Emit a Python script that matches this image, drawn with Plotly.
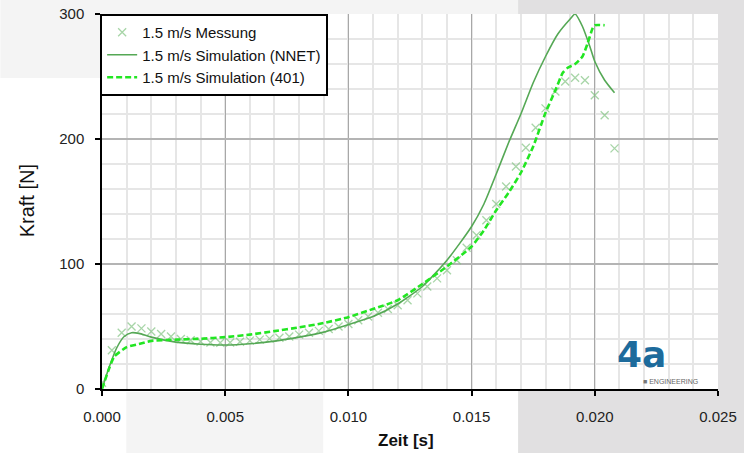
import plotly.graph_objects as go

# ---------------- data ----------------
t_meas = [0.0000, 0.0004, 0.0008, 0.0012, 0.0016, 0.0020, 0.0024, 0.0028, 0.0032, 0.0036,
          0.0040, 0.0044, 0.0048, 0.0052, 0.0056, 0.0060, 0.0064, 0.0068, 0.0072, 0.0076,
          0.0080, 0.0084, 0.0088, 0.0092, 0.0096, 0.0100, 0.0104, 0.0108, 0.0112, 0.0116,
          0.0120, 0.0124, 0.0128, 0.0132, 0.0136, 0.0140, 0.0144, 0.0148, 0.0152, 0.0156,
          0.0160, 0.0164, 0.0168, 0.0172, 0.0176, 0.0180, 0.0184, 0.0188, 0.0192, 0.0196,
          0.0200, 0.0204, 0.0208]
f_meas = [5, 31, 45, 50, 48.5, 46, 44, 42, 40, 39,
          38, 37.2, 37, 37.2, 37.8, 38.7, 39.5, 40.3, 41, 42,
          43.5, 45, 46.5, 48, 50, 52, 55, 58, 61, 64,
          67, 71, 76.5, 82, 88.5, 95, 103, 113, 123, 135,
          148, 162, 178, 193, 209, 224.5, 238, 246, 249, 247,
          235, 219, 192.5]

t_nnet = [0.0, 0.0003, 0.0006, 0.0009, 0.0012, 0.0015, 0.002, 0.003, 0.004, 0.005,
          0.006, 0.007, 0.008, 0.009, 0.010, 0.011, 0.012, 0.013, 0.014, 0.015,
          0.0155, 0.016, 0.0165, 0.017, 0.0175, 0.018, 0.0185, 0.019, 0.0192, 0.0195,
          0.0198, 0.020, 0.0204, 0.0208]
f_nnet = [0, 18, 33, 42, 45, 44.5, 41.5, 37.5, 35.8, 35.2,
          36.2, 38.3, 41.5, 45.5, 51.5, 58, 68, 82, 103, 130,
          148, 172, 197, 220, 245, 266, 284, 296, 300, 290,
          274, 262, 247, 237]

t_401 = [0.0, 0.0003, 0.0005, 0.001, 0.0015, 0.002, 0.003, 0.004, 0.005, 0.006,
         0.007, 0.008, 0.009, 0.010, 0.011, 0.012, 0.013, 0.014, 0.015, 0.0155,
         0.016, 0.0165, 0.017, 0.0175, 0.018, 0.0184, 0.0187, 0.0189, 0.0192, 0.0195,
         0.0197, 0.0199, 0.0200, 0.0204]
f_401 = [0, 17, 26, 33.5, 36, 38.5, 39.5, 40.2, 41.5, 43.5,
         46.3, 49.3, 52.8, 57.5, 64, 71, 84, 98, 114, 127,
         143, 157, 173, 194, 221, 239, 253, 257, 260, 266,
         276, 288, 291, 291]

names = ["1.5 m/s Messung", "1.5 m/s Simulation (NNET)", "1.5 m/s Simulation (401)"]
x_ticks = [0.000, 0.005, 0.010, 0.015, 0.020, 0.025]
y_ticks = [0, 100, 200, 300]

FONT = "Liberation Sans, Arial, sans-serif"

fig = go.Figure()
fig.add_trace(go.Scatter(
    x=t_meas, y=f_meas, mode="markers", name=names[0],
    marker=dict(symbol="x-thin", size=8, color="rgba(130,195,130,0.7)",
                line=dict(width=1.3, color="rgba(130,195,130,0.7)"))))
fig.add_trace(go.Scatter(
    x=t_nnet, y=f_nnet, mode="lines", name=names[1],
    line=dict(color="#55a855", width=1.6, shape="spline", smoothing=0.6)))
fig.add_trace(go.Scatter(
    x=t_401, y=f_401, mode="lines", name=names[2],
    line=dict(color="#22e622", width=2.6, dash="6px,3px", shape="spline", smoothing=0.5)))

# background regions (paper coords relative to plot area)
def px_x(p):
    return (p - 101.7) / 616.3

def px_y(p):
    return (389 - p) / 375.0

shapes = [
    dict(type="rect", xref="paper", yref="paper", layer="below",
         x0=px_x(0), x1=px_x(518), y0=px_y(78), y1=px_y(0),
         fillcolor="#f4f4f4", line=dict(width=0)),
    dict(type="rect", xref="paper", yref="paper", layer="below",
         x0=px_x(126), x1=px_x(323), y0=px_y(453), y1=px_y(392),
         fillcolor="#f4f4f4", line=dict(width=0)),
    dict(type="rect", xref="paper", yref="paper", layer="below",
         x0=px_x(518), x1=px_x(744), y0=px_y(453), y1=px_y(0),
         fillcolor="#e1e0e1", line=dict(width=0)),
    dict(type="rect", xref="paper", yref="paper", layer="below",
         x0=0, x1=1, y0=0, y1=1, fillcolor="white", line=dict(width=0)),
]

annotations = [
    dict(text="Kraft [N]", xref="paper", yref="paper", x=px_x(27), y=px_y(201),
         xanchor="center", yanchor="middle",
         textangle=-90, showarrow=False, font=dict(family=FONT, size=20, color="#111")),
    dict(text="<b>Zeit [s]</b>", xref="paper", yref="paper", x=px_x(406), y=px_y(440),
         xanchor="center", yanchor="middle",
         showarrow=False, font=dict(family=FONT, size=17, color="#111")),
    dict(text="<b>4a</b>", xref="paper", yref="paper", x=px_x(641), y=px_y(354),
         xanchor="center", yanchor="middle",
         showarrow=False, font=dict(family="DejaVu Sans", size=36, color="#1d6b9c")),
    dict(text="<span style='color:#777'>■</span> ENGINEERING", xref="paper", yref="paper",
         x=px_x(670), y=px_y(381), xanchor="center", yanchor="middle",
         showarrow=False, font=dict(family=FONT, size=7, color="#666")),
]

fig.update_layout(
    width=744, height=453,
    margin=dict(l=102, r=26, t=14, b=64, autoexpand=False),
    paper_bgcolor="white", plot_bgcolor="white",
    font=dict(family=FONT, size=15, color="#222"),
    shapes=shapes, annotations=annotations,
    showlegend=True,
    legend=dict(x=-0.003, y=1, xanchor="left", yanchor="top",
                bgcolor="white", bordercolor="black", borderwidth=2,
                font=dict(family=FONT, size=15, color="#111"),
                tracegroupgap=0),
    xaxis=dict(range=[0, 0.025], tickvals=x_ticks, tickformat=".3f",
               showline=True, linecolor="black", linewidth=1.5,
               ticks="outside", ticklen=5, tickcolor="black", tickwidth=1.5,
               ticklabelstandoff=8,
               showgrid=True, gridcolor="#a8a8a8", gridwidth=1,
               minor=dict(dtick=0.001, showgrid=True, gridcolor="#e6e6e6", gridwidth=1.5),
               zeroline=False),
    yaxis=dict(range=[0, 300], tickvals=y_ticks,
               showline=True, linecolor="black", linewidth=1.5,
               ticks="outside", ticklen=5, tickcolor="black", tickwidth=1.5,
               ticklabelstandoff=8,
               showgrid=True, gridcolor="#b4b4b4", gridwidth=1.5,
               minor=dict(dtick=20, showgrid=True, gridcolor="#e6e6e6", gridwidth=1.5),
               zeroline=False),
)

fig.write_html("out.html")
